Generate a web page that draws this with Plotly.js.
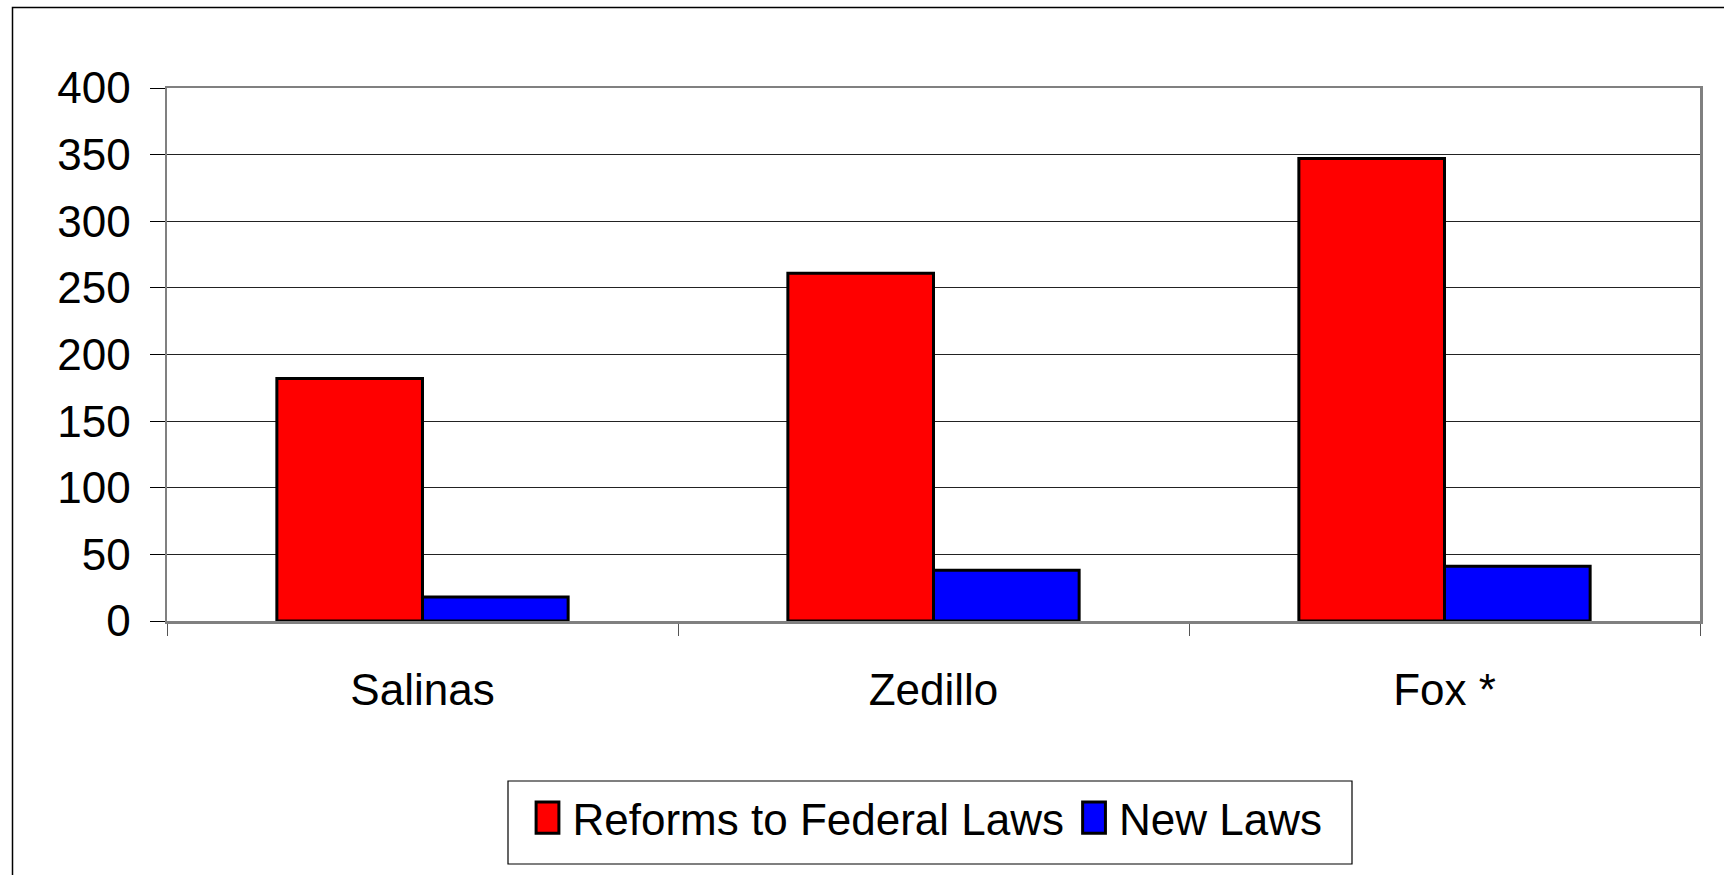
<!DOCTYPE html>
<html>
<head>
<meta charset="utf-8">
<script src="https://cdn.plot.ly/plotly-3.0.1.min.js"></script>
<style>
html,body{margin:0;padding:0;background:#fff;}
#chart{width:1724px;height:875px;}
</style>
</head>
<body>
<div id="chart"></div>
<script>
const categories = ["Salinas", "Zedillo", "Fox *"];
const reformsToFederalLaws = [182, 261, 347];
const newLaws = [18, 38, 41];
const seriesNames = ["Reforms to Federal Laws", "New Laws"];
const yTickValues = [0, 50, 100, 150, 200, 250, 300, 350, 400];

const W = 1724, H = 875;
const M = {l: 167, r: 24, t: 88, b: 254};
const pw = W - M.l - M.r, ph = H - M.t - M.b;
const px = x => (x - M.l) / pw;
const py = y => (H - M.b - y) / ph;

const font = "Liberation Sans, Arial, sans-serif";

const traces = [
  {type: "bar", name: seriesNames[0], x: categories, y: reformsToFederalLaws,
   marker: {color: "#ff0000", line: {color: "#000000", width: 3}}},
  {type: "bar", name: seriesNames[1], x: categories, y: newLaws,
   marker: {color: "#0000ff", line: {color: "#000000", width: 3}}}
];

const layout = {
  width: W, height: H,
  margin: M,
  paper_bgcolor: "#ffffff",
  plot_bgcolor: "#ffffff",
  font: {family: font, size: 44, color: "#000"},
  barmode: "group",
  bargap: 0.43,
  bargroupgap: 0,
  showlegend: true,
  legend: {
    orientation: "h",
    x: px(925), xanchor: "center",
    y: py(818), yanchor: "middle",
    borderwidth: 0,
    bgcolor: "rgba(0,0,0,0)",
    itemwidth: 40,
    font: {family: font, size: 44, color: "#000"},
    itemclick: false, itemdoubleclick: false
  },
  xaxis: {
    type: "category",
    showline: true, linecolor: "#808080", linewidth: 2.5, mirror: true,
    ticks: "outside", tickson: "boundaries", ticklen: 12, tickcolor: "#555", tickwidth: 1,
    showgrid: false, zeroline: false,
    ticklabelstandoff: 29,
    tickfont: {family: font, size: 44, color: "#000"}
  },
  yaxis: {
    range: [0, 400], tickvals: yTickValues, ticktext: yTickValues.map(String),
    showline: true, linecolor: "#808080", linewidth: 2.5, mirror: true,
    ticks: "outside", ticklen: 15, tickcolor: "#000", tickwidth: 1,
    showgrid: true, gridcolor: "#222", gridwidth: 1,
    zeroline: false,
    ticklabelstandoff: 10,
    tickfont: {family: font, size: 44, color: "#000"}
  },
  shapes: [
    {type: "rect", xref: "paper", yref: "paper",
     x0: px(12.5), x1: px(W + 20), y0: py(H + 20), y1: py(7.5),
     line: {color: "#000", width: 1.5}, fillcolor: "rgba(0,0,0,0)", layer: "below"},
    {type: "rect", xref: "paper", yref: "paper",
     x0: px(508), x1: px(1352), y0: py(864), y1: py(781),
     line: {color: "#000", width: 1.2}, fillcolor: "rgba(0,0,0,0)", layer: "below"}
  ]
};

Plotly.newPlot("chart", traces, layout, {displayModeBar: false, staticPlot: true}).then(gd => {
  gd.querySelectorAll(".legendpoints path").forEach(p => {
    const t = p.getAttribute("transform") || "";
    p.setAttribute("transform", t + " scale(1.9,2.6)");
    p.style.vectorEffect = "non-scaling-stroke";
    p.style.strokeWidth = "3px";
  });
});
</script>
</body>
</html>
